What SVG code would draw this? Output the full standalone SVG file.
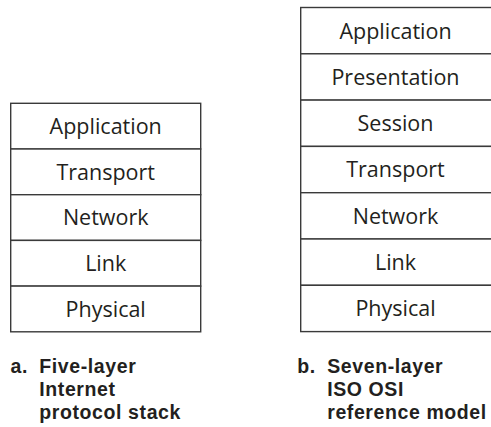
<svg xmlns="http://www.w3.org/2000/svg" width="491" height="427" viewBox="0 0 491 427">
<style>
.box{fill:#fff;stroke:#3a3a3a;stroke-width:1.4}
.lbl{font-family:"Open Sans","Noto Sans",sans-serif;font-size:21.5px;fill:#231f20;text-anchor:middle}
.cap{font-family:"Liberation Sans",Arial,sans-serif;font-size:19.5px;font-weight:bold;letter-spacing:0.6px;fill:#231f20}
</style>
<rect width="491" height="427" fill="#fff"/>
<g id="stack-a">
<g id="a-application"><rect class="box" x="10.7" y="103.3" width="190" height="45.7"/><text class="lbl" x="105.7" y="134">Application</text></g>
<g id="a-transport"><rect class="box" x="10.7" y="149" width="190" height="45.7"/><text class="lbl" x="105.7" y="179.7">Transport</text></g>
<g id="a-network"><rect class="box" x="10.7" y="194.7" width="190" height="45.7"/><text class="lbl" x="105.7" y="225.4">Network</text></g>
<g id="a-link"><rect class="box" x="10.7" y="240.4" width="190" height="45.7"/><text class="lbl" x="105.7" y="271.1">Link</text></g>
<g id="a-physical"><rect class="box" x="10.7" y="286.1" width="190" height="45.7"/><text class="lbl" x="105.7" y="316.8">Physical</text></g>
</g>
<g id="stack-b">
<g id="b-application"><rect class="box" x="300.7" y="7.5" width="192" height="46.3"/><text class="lbl" x="395.5" y="38.5">Application</text></g>
<g id="b-presentation"><rect class="box" x="300.7" y="53.8" width="192" height="46.3"/><text class="lbl" x="395.5" y="84.8">Presentation</text></g>
<g id="b-session"><rect class="box" x="300.7" y="100.1" width="192" height="46.3"/><text class="lbl" x="395.5" y="131.1">Session</text></g>
<g id="b-transport"><rect class="box" x="300.7" y="146.4" width="192" height="46.3"/><text class="lbl" x="395.5" y="177.4">Transport</text></g>
<g id="b-network"><rect class="box" x="300.7" y="192.7" width="192" height="46.3"/><text class="lbl" x="395.5" y="223.7">Network</text></g>
<g id="b-link"><rect class="box" x="300.7" y="239" width="192" height="46.3"/><text class="lbl" x="395.5" y="270">Link</text></g>
<g id="b-physical"><rect class="box" x="300.7" y="285.3" width="192" height="46.3"/><text class="lbl" x="395.5" y="316.3">Physical</text></g>
</g>
<g id="connectors"/>
<g id="captions">
<text id="caption-a" class="cap"><tspan x="10.5" y="372.7">a.</tspan><tspan x="39.3" y="372.7">Five-layer</tspan><tspan x="39.3" y="396">Internet</tspan><tspan x="39.3" y="419.3">protocol stack</tspan></text>
<text id="caption-b" class="cap"><tspan x="297.2" y="372.7">b.</tspan><tspan x="327.2" y="372.7">Seven-layer</tspan><tspan x="327.2" y="396">ISO OSI</tspan><tspan x="327.2" y="419.3">reference model</tspan></text>
</g>
</svg>
